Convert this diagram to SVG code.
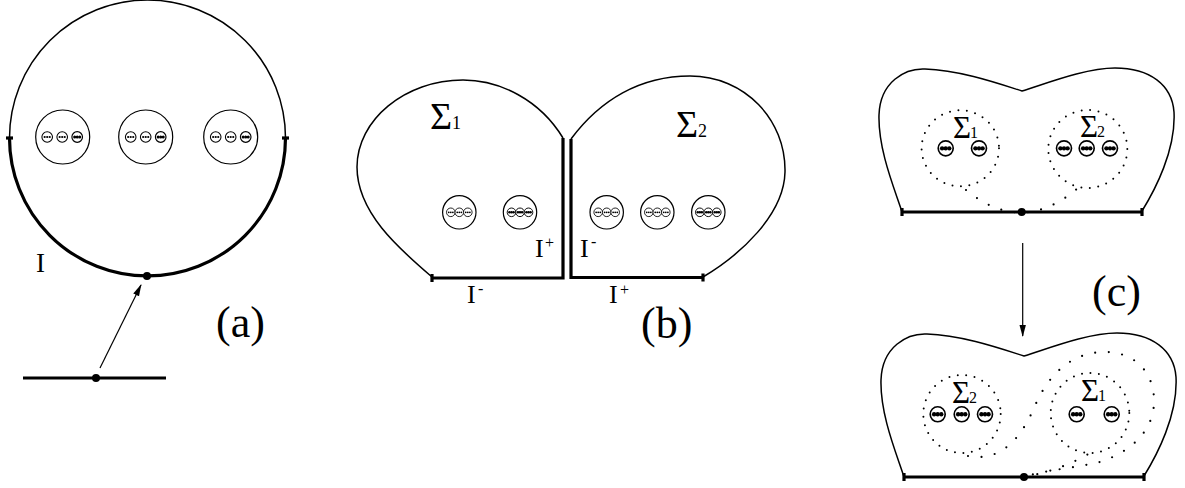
<svg xmlns="http://www.w3.org/2000/svg" width="1185" height="488" viewBox="0 0 1185 488">
<style>
.o{fill:none;stroke:#000;stroke-width:1.5}
.t{fill:none;stroke:#000;stroke-width:3.2}
.c{fill:#fff;stroke:#000;stroke-width:1.2}
.dc{fill:none;stroke:#000;stroke-width:2;stroke-linecap:round;stroke-dasharray:0 8.5}
.dt{fill:none;stroke:#000;stroke-width:2.2;stroke-linecap:round;stroke-dasharray:0 13.5}
.tx{font-family:"Liberation Serif","Times New Roman",serif;fill:#000}
</style>
<defs>
<g id="d3"><circle r="5" fill="#fff" stroke="#000" stroke-width="1"/><circle cx="-2.4" r="1.05"/><circle r="1.05"/><circle cx="2.4" r="1.05"/></g>
<g id="b3"><circle r="5" fill="#fff" stroke="#000" stroke-width="1.1"/><circle cx="-2.4" r="1.45"/><circle r="1.45"/><circle cx="2.4" r="1.45"/></g>
<marker id="ah" markerWidth="12" markerHeight="8" refX="11" refY="4" orient="auto" markerUnits="userSpaceOnUse"><path d="M0,0.8 L12,4 L0,7.2 z" fill="#000"/></marker>
</defs>

<g id="panel-a">
<path class="o" d="M9.5 138 A138 138 0 0 1 285.5 138"/>
<path class="t" d="M9.5 138 A138 138 0 0 0 285.5 138"/>
<line class="t" x1="6" y1="138" x2="13" y2="138"/>
<line class="t" x1="282" y1="138" x2="289" y2="138"/>
<circle cx="147" cy="276" r="4"/>
<g id="a-g1"><circle class="c" cx="62.7" cy="137" r="27"/><use href="#d3" transform="translate(47.2,137) scale(1.06)"/><use href="#d3" transform="translate(62.2,137) scale(1.06)"/><use href="#b3" transform="translate(77.2,137) scale(1.06)"/></g>
<g id="a-g2"><circle class="c" cx="145.7" cy="137" r="27"/><use href="#d3" transform="translate(130.7,137) scale(1.06)"/><use href="#d3" transform="translate(145.7,137) scale(1.06)"/><use href="#b3" transform="translate(160.7,137) scale(1.06)"/></g>
<g id="a-g3"><circle class="c" cx="230.7" cy="137" r="27"/><use href="#d3" transform="translate(215.7,137) scale(1.06)"/><use href="#d3" transform="translate(230.7,137) scale(1.06)"/><use href="#b3" transform="translate(245.7,137) scale(1.06)"/></g>
<text class="tx" x="36" y="272" font-size="27">I</text>
<g id="a-line"><line class="t" x1="23" y1="378" x2="166" y2="378"/><circle cx="96" cy="378" r="4"/></g>
<text class="tx" x="216" y="337" font-size="44">(a)</text>
</g>

<g id="connectors">
<line x1="100" y1="368" x2="141" y2="285" stroke="#000" stroke-width="1.2" marker-end="url(#ah)"/>
<line x1="1022.7" y1="243" x2="1022.7" y2="336" stroke="#000" stroke-width="1.2" marker-end="url(#ah)"/>
</g>

<g id="panel-b">
<g id="sigma1-b">
<path class="o" d="M563 138 C540 100 500 80 463 80 C405 80 357 120 357 167 C357 212 398 248 432 277"/>
<path class="t" d="M432 278 L563 278 L563 138"/>
<line class="t" x1="432" y1="274" x2="432" y2="282"/>
<text class="tx" x="430" y="129" font-size="38">Σ</text><text class="tx" x="452" y="129" font-size="18">1</text>
<g><circle class="c" cx="459.3" cy="212.3" r="16.7"/><use href="#d3" transform="translate(450.8,212.3) scale(0.86)"/><use href="#d3" transform="translate(459.3,212.3) scale(0.86)"/><use href="#d3" transform="translate(467.8,212.3) scale(0.86)"/></g>
<g><circle class="c" cx="520" cy="212.3" r="16.7"/><use href="#b3" transform="translate(511.5,212.3) scale(0.86)"/><use href="#b3" transform="translate(520,212.3) scale(0.86)"/><use href="#b3" transform="translate(528.5,212.3) scale(0.86)"/></g>
<text class="tx" x="535" y="257" font-size="26">I</text><text class="tx" x="545" y="248" font-size="16">+</text>
<text class="tx" x="467" y="303" font-size="26">I</text><text class="tx" x="478" y="294" font-size="16">-</text>
</g>
<g id="sigma2-b">
<path class="o" d="M571 139 C600 100 640 76 690 76 C745 76 786 120 785 172 C784 215 740 255 703 277"/>
<path class="t" d="M571 139 L571 277.5 L703 277.5"/>
<line class="t" x1="703" y1="273.5" x2="703" y2="281.5"/>
<text class="tx" x="676" y="137" font-size="38">Σ</text><text class="tx" x="698" y="137" font-size="18">2</text>
<g><circle class="c" cx="606.7" cy="212.3" r="16.7"/><use href="#d3" transform="translate(598.2,212.3) scale(0.86)"/><use href="#d3" transform="translate(606.7,212.3) scale(0.86)"/><use href="#d3" transform="translate(615.2,212.3) scale(0.86)"/></g>
<g><circle class="c" cx="657.3" cy="212.3" r="16.7"/><use href="#d3" transform="translate(648.8,212.3) scale(0.86)"/><use href="#d3" transform="translate(657.3,212.3) scale(0.86)"/><use href="#d3" transform="translate(665.8,212.3) scale(0.86)"/></g>
<g><circle class="c" cx="708.3" cy="212.3" r="16.7"/><use href="#b3" transform="translate(699.8,212.3) scale(0.86)"/><use href="#b3" transform="translate(708.3,212.3) scale(0.86)"/><use href="#b3" transform="translate(716.8,212.3) scale(0.86)"/></g>
<text class="tx" x="580" y="257" font-size="26">I</text><text class="tx" x="591" y="247" font-size="16">-</text>
<text class="tx" x="609" y="303" font-size="26">I</text><text class="tx" x="620" y="295" font-size="16">+</text>
</g>
<text class="tx" x="641" y="338" font-size="44">(b)</text>
</g>

<g id="panel-c-top">
<path class="o" d="M902 212 C895 190 878 150 879 115 C880 82 905 68 925 69 C960 70 1000 84 1022 91 C1045 84 1085 68 1115 68 C1150 68 1172 85 1174 112 C1176 150 1155 190 1142 211"/>
<line class="t" x1="902" y1="212" x2="1142" y2="212"/>
<line class="t" x1="902" y1="208" x2="902" y2="216"/>
<line class="t" x1="1142" y1="208" x2="1142" y2="216"/>
<circle cx="1021.7" cy="212" r="4"/>
<ellipse class="dc" cx="960.3" cy="148.3" rx="38.7" ry="38"/>
<ellipse class="dc" cx="1087.8" cy="149" rx="39.5" ry="39"/>
<path class="dt" d="M966 190 Q1022 236 1078 188"/>
<use href="#b3" transform="translate(945.7,148.3) scale(1.5)"/>
<use href="#b3" transform="translate(979,148.3) scale(1.5)"/>
<use href="#b3" transform="translate(1064,148.3) scale(1.5)"/>
<use href="#b3" transform="translate(1086.7,148.3) scale(1.5)"/>
<use href="#b3" transform="translate(1110,148.3) scale(1.5)"/>
<text class="tx" x="953" y="138" font-size="31">Σ</text><text class="tx" x="970" y="138" font-size="16">1</text>
<text class="tx" x="1080" y="137" font-size="31">Σ</text><text class="tx" x="1097" y="137" font-size="16">2</text>
</g>

<g id="panel-c-bottom">
<path class="o" d="M904 477 C897 455 880 415 881 380 C882 347 907 333 927 334 C962 335 1002 349 1024 356 C1047 349 1087 333 1117 333 C1152 333 1174 350 1176 377 C1178 415 1157 455 1144 476"/>
<line class="t" x1="904" y1="477" x2="1144" y2="477"/>
<line class="t" x1="904" y1="473" x2="904" y2="481"/>
<line class="t" x1="1144" y1="473" x2="1144" y2="481"/>
<circle cx="1024" cy="477" r="4"/>
<ellipse class="dc" cx="962" cy="414" rx="38.7" ry="39"/>
<ellipse class="dc" cx="1090" cy="413" rx="39.3" ry="40"/>
<path class="dt" d="M968 456 C1000 462 1020 440 1034 408 C1050 370 1075 352 1105 352 C1137 352 1155 375 1154 403 C1153 432 1130 452 1100 462 C1075 468 1045 470 1024 477"/>
<path class="dt" d="M1024 477 Q1062 470 1090 453"/>
<use href="#b3" transform="translate(937.7,414.3) scale(1.5)"/>
<use href="#b3" transform="translate(961.7,414.3) scale(1.5)"/>
<use href="#b3" transform="translate(985,414.3) scale(1.5)"/>
<use href="#b3" transform="translate(1076.7,414.3) scale(1.5)"/>
<use href="#b3" transform="translate(1111.7,414.3) scale(1.5)"/>
<text class="tx" x="952" y="403" font-size="31">Σ</text><text class="tx" x="969" y="403" font-size="16">2</text>
<text class="tx" x="1081" y="401" font-size="31">Σ</text><text class="tx" x="1098" y="401" font-size="16">1</text>
</g>
<text class="tx" x="1092" y="306" font-size="44">(c)</text>
</svg>
